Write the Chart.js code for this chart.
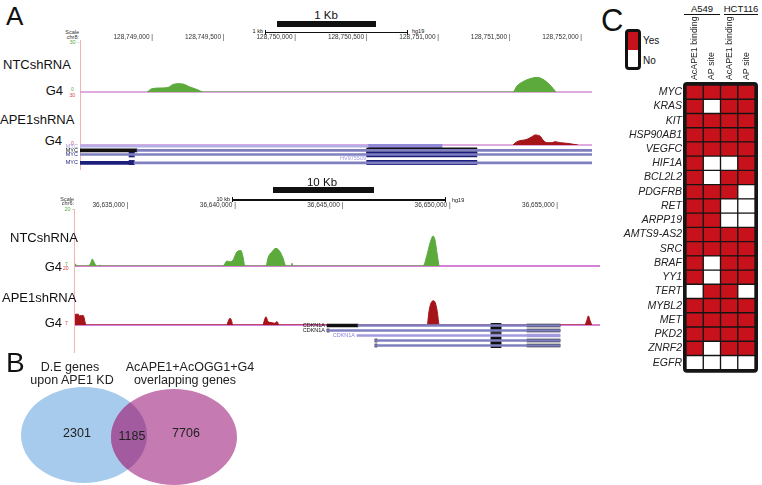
<!DOCTYPE html>
<html><head><meta charset="utf-8">
<script src="https://cdn.jsdelivr.net/npm/chart.js@4.4.1/dist/chart.umd.min.js"></script>
<style>
html,body{margin:0;padding:0;background:#fff;}
#fig{position:relative;width:762px;height:485px;overflow:hidden;font-family:"Liberation Sans",Arial,sans-serif;color:#111;}
#fig canvas{position:absolute;}
.t{position:absolute;white-space:nowrap;line-height:1;}
.r{position:absolute;}
</style></head><body><div id="fig"></div>
<script>
// ================= DATA =================
// Panel C heatmap (1 = Yes, 0 = No)
const heatGenes = ['MYC','KRAS','KIT','HSP90AB1','VEGFC','HIF1A','BCL2L2','PDGFRB','RET','ARPP19',
  'AMTS9-AS2','SRC','BRAF','YY1','TERT','MYBL2','MET','PKD2','ZNRF2','EGFR'];
const heatColumns = ['AcAPE1 binding','AP site','AcAPE1 binding','AP site'];
const heatCellLines = ['A549','HCT116'];
const heatA549Binding = [1,1,1,1,1,1,1,1,1,1,1,1,1,1,0,1,1,1,1,0];
const heatA549AP      = [1,0,1,1,1,0,0,1,1,1,1,1,0,0,1,1,1,1,0,0];
const heatHCTBinding  = [1,1,1,1,1,0,1,1,0,0,1,1,1,1,1,1,1,1,1,0];
const heatHCTAP       = [1,1,1,1,1,1,1,0,0,0,1,1,1,1,0,1,1,1,1,0];
const heatLegend = ['Yes','No'];

// Panel B Venn
const vennSetLabels = [['D.E genes','upon APE1 KD'],['AcAPE1+AcOGG1+G4','overlapping genes']];
const vennCounts = [2301, 1185, 7706];   // left only, overlap, right only

// Panel A, MYC locus (chr8, hg19)
const mycRange = [128748489, 128752070];
const mycTicks = [128749000,128749500,128750000,128750500,128751000,128751500,128752000];
const mycViewMax = 30;
const mycNTC = [[128748958,0],[128748993,2.0],[128749049,2.4],[128749104,2.7],[128749139,4.5],[128749174,5.0],
  [128749209,4.8],[128749258,3.0],[128749307,1.5],[128749356,0],
  [128751517,0],[128751545,3.6],[128751587,6.2],[128751636,8.0],[128751685,8.8],[128751727,7.6],[128751776,4.2],[128751818,0]];
const mycAPE1 = [[128751517,0],[128751545,2.0],[128751615,3.4],[128751650,5.0],[128751671,6.0],[128751706,5.4],
  [128751727,3.0],[128751755,1.4],[128751790,1.4],[128751811,2.0],[128751846,1.4],[128751895,1.0],[128751972,0]];
const mycRows   = ['MYC','MYC','MYC','HV975509','MYC'];
const mycIntron = [[128748489,128750504],[128748888,128752070],[128748489,128752070],null,[128748867,128752070]];
const mycUTR    = [null,[128748489,128748888],null,null,[128748489,128748832]];
const mycExon1  = [null,null,[128748832,128748869],null,[128748832,128748869]];
const mycExon2  = [[128750504,128751021],[128750494,128751265],[128750494,128751265],null,[128750494,128751265]];

// Panel A, CDKN1A locus (chr6, hg19)
const cdknRange = [36632512, 36656953];
const cdknTicks = [36635000,36640000,36645000,36650000,36655000];
const cdknViewMax = 20;
const cdknNTC = [[36632512,0.7],[36632559,0.5],[36632605,0],
  [36633117,0],[36633243,1.0],[36633317,2.5],[36633411,1.2],[36633522,0],
  [36633629,0],[36633676,0.4],[36633722,0],
  [36639402,0],[36639588,1.8],[36639728,1.5],[36639868,2.1],[36640054,5.1],[36640240,5.5],[36640333,3.3],[36640426,0],
  [36641404,0],[36641497,2.9],[36641683,5.1],[36641869,6.3],[36642056,5.1],[36642195,2.9],[36642335,0],
  [36642568,0],[36642614,1.0],[36642661,0],
  [36648713,0],[36648899,3.9],[36649039,8.2],[36649178,10.7],[36649271,9.3],[36649365,4.6],[36649458,0]];
const cdknAPE1 = [[36632512,3.7],[36632582,3.8],[36632666,3.8],[36632712,3.2],[36632815,3.3],[36632898,3.3],[36632978,1.1],[36633024,0],
  [36639574,0],[36639658,1.6],[36639728,2.35],[36639798,1.6],[36639854,0],
  [36641264,0],[36641334,1.8],[36641404,2.9],[36641497,1.2],[36641683,0.8],[36641823,0.6],[36641916,1.2],[36642009,0],
  [36648913,0],[36648978,4.1],[36649071,7.4],[36649192,8.5],[36649285,7.8],[36649378,4.7],[36649471,0],
  [36656241,0],[36656334,1.5],[36656409,3.2],[36656488,1.6],[36656567,0]];
const cdknRows    = ['CDKN1A','CDKN1A','CDKN1A','',''];
const cdknIntron  = [[36645687,36655091],[36644244,36655091],[36645640,36655091],[36646478,36655091],[36646478,36655091]];
const cdknUTR5    = [[36644244,36645687],[36644244,36644340],null,[36646478,36646570],[36646478,36646570]];
const cdknExonMid = [[36651878,36652344],[36651878,36652344],[36651878,36652344],[36651878,36652344],[36651878,36652344]];
const cdknExonEnd = [[36653554,36655091],[36653554,36655091],[36653554,36655091],[36653554,36655091],[36653554,36655091]];

// ================= STYLE / LAYOUT =================
const FONT = '"Liberation Sans", Arial, sans-serif';
Chart.defaults.font.family = FONT;
Chart.defaults.color = '#222';
const RED = '#c8121b', GREEN = '#5caa3c', DARKRED = '#a51419';
const LAV = '#a29be0', NAVY = '#1d1d7a', INTRON = '#7f7fc0', BLACK = '#111111';
const fig = document.getElementById('fig');

function T(text, x, y, o = {}) {
  const size = o.size || 13;
  const d = document.createElement('div');
  d.className = 't'; d.textContent = text;
  d.style.fontSize = size + 'px';
  d.style.left = x + 'px'; d.style.top = (y - size / 2) + 'px';
  d.style.color = o.color || '#111';
  if (o.style) d.style.fontStyle = o.style;
  if (o.align === 'center') d.style.transform = 'translateX(-50%)';
  else if (o.align === 'right') d.style.transform = 'translateX(-100%)';
  fig.appendChild(d);
}
function R(x, y, w, h, color, extra) {
  const d = document.createElement('div');
  d.className = 'r';
  Object.assign(d.style, {left: x + 'px', top: y + 'px', width: w + 'px', height: h + 'px', background: color}, extra || {});
  fig.appendChild(d);
}
function mk(left, top, w, h, cfg) {
  const c = document.createElement('canvas');
  c.width = w; c.height = h;
  Object.assign(c.style, {left: left + 'px', top: top + 'px', width: w + 'px', height: h + 'px'});
  fig.appendChild(c);
  cfg.options = Object.assign({responsive: false, animation: false, events: []}, cfg.options);
  cfg.options.plugins = Object.assign({legend: {display: false}, tooltip: {enabled: false}}, cfg.options.plugins || {});
  return new Chart(c, cfg);
}

const baselinePlugin = {
  id: 'baseline',
  beforeDatasetsDraw(chart, args, opts) {
    const {ctx, chartArea: a, scales: {y}} = chart;
    const py = y.getPixelForValue(0);
    ctx.save(); ctx.strokeStyle = opts.color; ctx.lineWidth = opts.width || 1.5;
    ctx.beginPath(); ctx.moveTo(a.left, py); ctx.lineTo(a.right, py); ctx.stroke(); ctx.restore();
  }
};

function signalChart(left, top, w, h, pts, color, range, yMax, ticks, padTop, lineColor) {
  const showAxis = !!ticks;
  return mk(left, top, w, h, {
    type: 'line',
    data: {datasets: [{
      data: pts.map(([x, y]) => ({x, y})),
      borderColor: color, backgroundColor: color, borderWidth: 1, fill: 'origin',
      pointRadius: 0, tension: 0.35, cubicInterpolationMode: 'monotone'
    }]},
    options: {
      layout: {padding: {top: padTop, bottom: 2, left: 0, right: 0}, autoPadding: false},
      scales: {
        x: {
          type: 'linear', min: range[0], max: range[1], display: showAxis, position: 'top',
          grid: {display: false, drawTicks: false}, border: {display: false},
          afterBuildTicks: s => { if (ticks) s.ticks = ticks.map(v => ({value: v})); },
          afterFit: s => { s.height = showAxis ? 12 : 0; },
          ticks: {align: 'end', autoSkip: false, maxRotation: 0, minRotation: 0, padding: 1,
            font: {size: 6.5}, color: '#333', callback: v => Number(v).toLocaleString('en-US') + ' |'}
        },
        y: {type: 'linear', min: 0, max: yMax, display: false}
      },
      plugins: {baseline: {color: lineColor, width: 1.5}}
    },
    plugins: [baselinePlugin]
  });
}

function geneChart(left, top, w, h, range, rows, layers) {
  return mk(left, top, w, h, {
    type: 'bar',
    data: {labels: rows.map((r, i) => i), datasets: layers.map(l => ({
      data: l.data, backgroundColor: l.colors, barThickness: l.thickness,
      grouped: false, borderWidth: 0
    }))},
    options: {
      indexAxis: 'y',
      layout: {padding: 0, autoPadding: false},
      scales: {
        x: {type: 'linear', min: range[0], max: range[1], display: false},
        y: {type: 'category', display: false}
      }
    }
  });
}

// ================= PANEL A =================
T('A', 6, 16, {size: 26});
// MYC locus annotations
R(277, 21, 99, 6, BLACK);
T('1 Kb', 326, 16, {size: 11.5, align: 'center'});
T('1 kb', 263, 32, {size: 5.5, align: 'right'});
R(265, 31.5, 143, 1.5, BLACK); R(265, 29.5, 1.2, 5, BLACK); R(407, 29.5, 1.2, 5, BLACK);
T('hg19', 412, 32, {size: 5.5});
T('Scale', 79, 33, {size: 5.5, align: 'right', color: '#333'});
T('chr8:', 79, 37.5, {size: 5.5, align: 'right', color: '#333'});
T('30 -', 79, 42.5, {size: 5.5, align: 'right', color: '#5caa3c'});
R(79.5, 40, 1, 130, '#f3b3b3');
T('NTCshRNA', 3, 64, {size: 13});
T('G4', 63, 90, {size: 13, align: 'right'});
T('0', 71, 89, {size: 5, color: '#5caa3c'});
T('30', 75, 95, {size: 5, align: 'right', color: '#d04040'});
T('APE1shRNA', 0, 119, {size: 13});
T('G4', 62, 140, {size: 13, align: 'right'});
T('0', 71, 143.5, {size: 5, color: '#d04040'});

signalChart(80, 30, 512, 64, mycNTC, GREEN, mycRange, mycViewMax, mycTicks, 0, '#d58fd5');
signalChart(80, 93, 512, 54, mycAPE1, DARKRED, mycRange, mycViewMax, null, 2, '#d58fd5');
geneChart(80, 144, 512, 21, mycRange, mycRows, [
  {data: mycIntron, colors: ['#b3aee6', INTRON, INTRON, INTRON, INTRON], thickness: 2},
  {data: mycUTR, colors: [LAV, BLACK, NAVY, LAV, NAVY], thickness: 3},
  {data: mycExon1, colors: [LAV, BLACK, NAVY, LAV, NAVY], thickness: 5},
  {data: mycExon2, colors: ['#9089d8', BLACK, NAVY, LAV, NAVY], thickness: 5}
]);
const mycLabelColors = [LAV, BLACK, NAVY, LAV, NAVY];
const mycLabelY = [146.3, 150.5, 154.7, 158.9, 163.1];
mycRows.forEach((name, i) => {
  if (name === 'MYC') T(name, 78, mycLabelY[i], {size: 5.5, align: 'right', color: mycLabelColors[i]});
  else T(name, 366, mycLabelY[i], {size: 5.5, align: 'right', color: LAV});
});

// CDKN1A locus annotations
R(273, 187, 101, 6, BLACK);
T('10 Kb', 322, 182.5, {size: 11.5, align: 'center'});
T('10 kb', 230, 199.5, {size: 5.5, align: 'right'});
R(232, 199.3, 214, 1.5, BLACK); R(232, 197, 1.2, 5, BLACK); R(445, 197, 1.2, 5, BLACK);
T('hg19', 452, 201, {size: 5.5});
T('Scale', 74, 200, {size: 5.5, align: 'right', color: '#333'});
T('chr6:', 74, 204, {size: 5.5, align: 'right', color: '#333'});
T('20 -', 74, 210, {size: 5.5, align: 'right', color: '#5caa3c'});
R(74, 209, 1, 144, '#f3b3b3');
T('NTCshRNA', 10, 237.5, {size: 13});
T('G4', 62, 266, {size: 13, align: 'right'});
T('7', 65, 264.5, {size: 5, color: '#5caa3c'});
T('20', 68.5, 268.5, {size: 5, align: 'right', color: '#d04040'});
T('APE1shRNA', 2, 297, {size: 13});
T('G4', 62, 322, {size: 13, align: 'right'});
T('7', 65, 323.5, {size: 5, color: '#d04040'});

signalChart(75, 198, 525, 70, cdknNTC, GREEN, cdknRange, cdknViewMax, cdknTicks, 0, '#c65ac6');
signalChart(75, 266, 525, 61, cdknAPE1, DARKRED, cdknRange, cdknViewMax, null, 2, '#c65ac6');
geneChart(75, 323, 525, 25, cdknRange, cdknRows, [
  {data: cdknIntron, colors: [INTRON, INTRON, LAV, INTRON, INTRON], thickness: 2},
  {data: cdknUTR5, colors: [BLACK, BLACK, LAV, BLACK, BLACK], thickness: 3},
  {data: cdknExonMid, colors: [BLACK, BLACK, '#3a3a4a', BLACK, BLACK], thickness: 6},
  {data: cdknExonEnd, colors: [BLACK, BLACK, LAV, BLACK, BLACK], thickness: 3}
]);
T(cdknRows[0], 325, 325.8, {size: 5.5, align: 'right', color: BLACK});
T(cdknRows[1], 325, 330.8, {size: 5.5, align: 'right', color: BLACK});
T(cdknRows[2], 355, 335.8, {size: 5.5, align: 'right', color: '#8a84d8'});

// ================= PANEL B =================
T('B', 6, 363, {size: 28});
T(vennSetLabels[0][0], 70, 367, {size: 12.5, align: 'center', color: '#222'});
T(vennSetLabels[0][1], 72, 380, {size: 12.5, align: 'center', color: '#222'});
T(vennSetLabels[1][0], 190, 367, {size: 12.5, align: 'center', color: '#222'});
T(vennSetLabels[1][1], 185, 380, {size: 12.5, align: 'center', color: '#222'});

const vennPlugin = {
  id: 'venn',
  afterDatasetsDraw(chart, args, o) {
    const {ctx, scales: {x, y}} = chart;
    const geo = o.sets.map(s => ({
      px: x.getPixelForValue(s.cx), py: y.getPixelForValue(s.cy),
      rx: x.getPixelForValue(s.cx + s.r) - x.getPixelForValue(s.cx),
      ry: y.getPixelForValue(s.cy) - y.getPixelForValue(s.cy + s.r), color: s.color
    }));
    const path = g => { ctx.beginPath(); ctx.ellipse(g.px, g.py, g.rx, g.ry, 0, 0, Math.PI * 2); };
    ctx.save();
    geo.forEach(g => { path(g); ctx.fillStyle = g.color; ctx.fill(); });
    path(geo[0]); ctx.clip(); path(geo[1]); ctx.fillStyle = o.overlap; ctx.fill();
    ctx.restore();
    ctx.save();
    ctx.font = '12.5px ' + FONT; ctx.fillStyle = '#222'; ctx.textAlign = 'center'; ctx.textBaseline = 'middle';
    o.labels.forEach((l, i) => ctx.fillText(String(vennCounts[i]), x.getPixelForValue(l.x), y.getPixelForValue(l.y)));
    ctx.restore();
  }
};
mk(15, 385, 230, 100, {
  type: 'scatter',
  data: {datasets: []},
  options: {
    layout: {padding: 0, autoPadding: false},
    scales: {x: {type: 'linear', min: 0, max: 230, display: false}, y: {type: 'linear', min: 0, max: 131.25, display: false}},
    plugins: {venn: {
      sets: [{cx: 69, cy: 65.6, r: 63, color: '#a6cbec'}, {cx: 159, cy: 63.0, r: 63, color: '#c57ab1'}],
      overlap: '#a15b9e',
      labels: [{x: 62, y: 66.9}, {x: 117, y: 63}, {x: 171, y: 66.9}]
    }}
  },
  plugins: [vennPlugin]
});

// ================= PANEL C =================
T('C', 601, 20, {size: 31});
// legend
R(625, 29, 16, 41, 'linear-gradient(' + RED + ' 52%, #fff 52%)', {border: '3px solid #111', borderRadius: '4px', boxSizing: 'border-box'});
T(heatLegend[0], 643, 41, {size: 10});
T(heatLegend[1], 643, 61, {size: 10});
// cell line headers
T(heatCellLines[0], 702, 8.5, {size: 9.5, align: 'center'});
T(heatCellLines[1], 741, 8.5, {size: 9.5, align: 'center'});
R(684, 13.5, 36, 1.5, BLACK);
R(724, 13.5, 34, 1.5, BLACK);

const boxPlugin = {
  id: 'box',
  beforeDatasetsDraw(chart) {
    const {ctx, chartArea: a} = chart;
    ctx.save(); ctx.fillStyle = '#151515';
    ctx.beginPath(); ctx.roundRect(a.left - 3, a.top - 3, a.width + 6, a.height + 6, 4); ctx.fill();
    ctx.restore();
  }
};
const headerFont = 8.8;
const heatMatrix = [heatA549Binding, heatA549AP, heatHCTBinding, heatHCTAP];
mk(600, 0, 162, 380, {
  type: 'bar',
  data: {labels: heatGenes, datasets: heatMatrix.map((col, c) => ({
    data: col.map(() => [c, c + 1]),
    backgroundColor: col.map(v => v ? RED : '#ffffff'),
    borderColor: '#151515', borderWidth: 1, borderSkipped: false,
    grouped: false, barPercentage: 1, categoryPercentage: 1,
    xAxisID: 'x', yAxisID: 'y'
  }))},
  options: {
    indexAxis: 'y',
    layout: {padding: {right: 7, bottom: 8, top: 0, left: 0}, autoPadding: false},
    scales: {
      x: {type: 'linear', min: 0, max: 4, display: false},
      xTop: {type: 'category', axis: 'x', labels: heatColumns, position: 'top', offset: true,
        grid: {display: false, drawTicks: false}, border: {display: false},
        ticks: {minRotation: 90, maxRotation: 90, autoSkip: false, padding: 5, labelOffset: headerFont * 1.2,
          font: {size: headerFont}, color: '#222'},
        afterFit: s => { s.height = 85; }},
      y: {type: 'category', grid: {display: false, drawTicks: false}, border: {display: false},
        ticks: {autoSkip: false, padding: 4, font: {size: 10.5, style: 'italic'}, color: '#222'},
        afterFit: s => { s.width = 86; }}
    }
  },
  plugins: [boxPlugin]
});
</script></body></html>
